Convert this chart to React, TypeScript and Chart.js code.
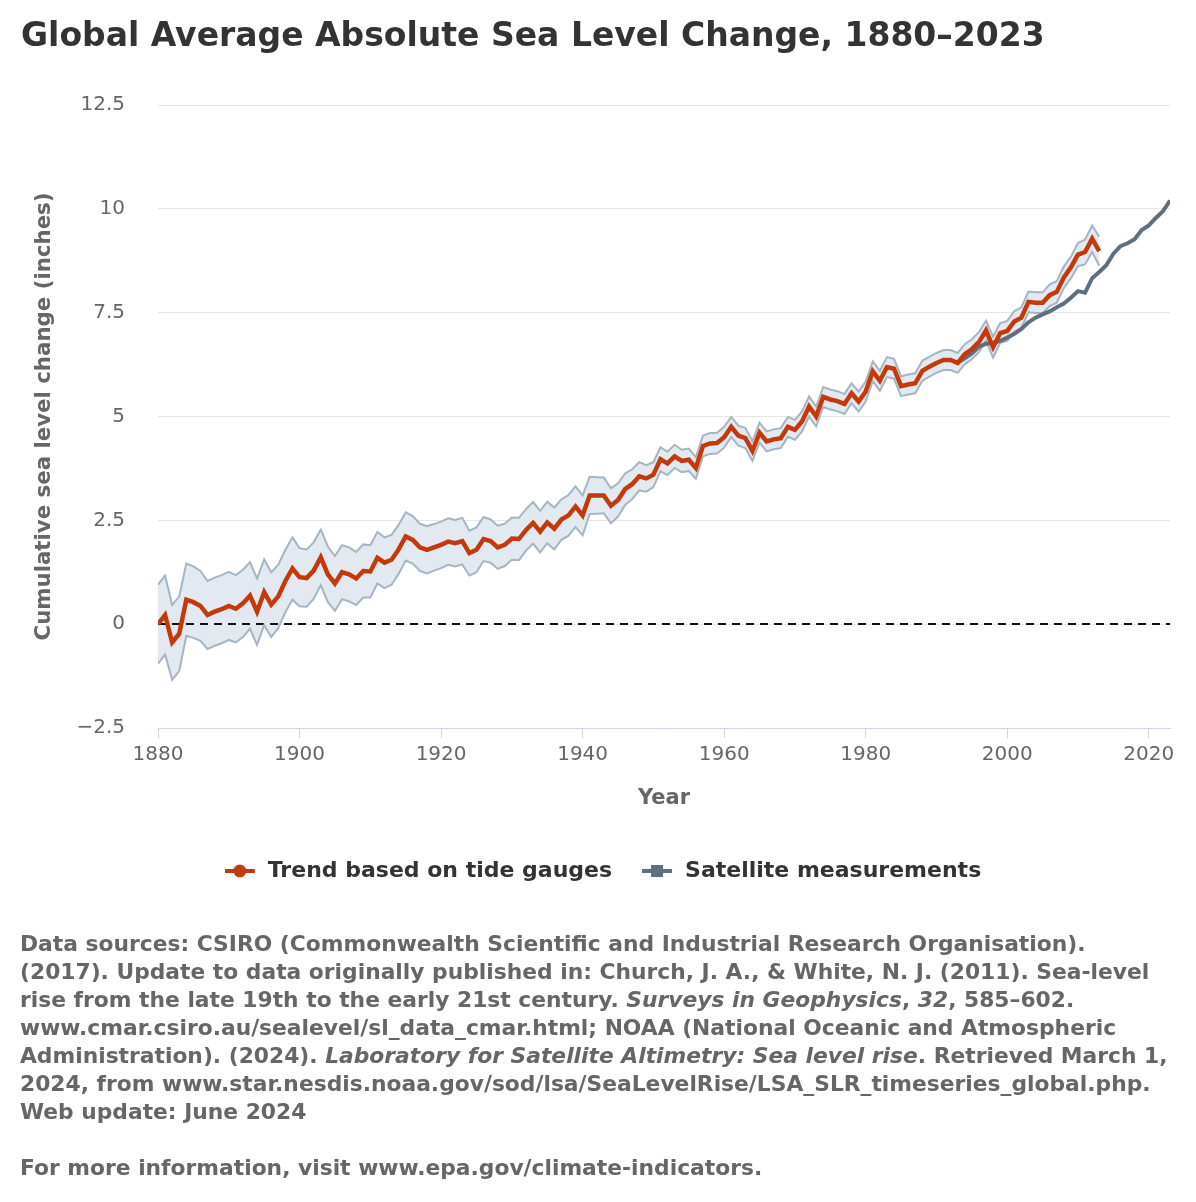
import { useEffect, useRef } from "react";
import { Chart, registerables } from "chart.js";

Chart.register(...registerables);

// Tide-gauge reconstruction (CSIRO), annual values in inches, starting 1880
const TIDE_START_YEAR = 1880;
const tideTrend = [
  0.0, 0.22, -0.44, -0.23, 0.59, 0.53, 0.44, 0.22, 0.3, 0.36,
  0.44, 0.37, 0.5, 0.69, 0.3, 0.77, 0.47, 0.67, 1.04, 1.34,
  1.13, 1.11, 1.29, 1.61, 1.2, 0.98, 1.25, 1.2, 1.1, 1.28,
  1.27, 1.6, 1.48, 1.55, 1.8, 2.11, 2.03, 1.85, 1.79, 1.85,
  1.91, 1.99, 1.95, 2.0, 1.71, 1.79, 2.05, 2.0, 1.85, 1.91,
  2.06, 2.05, 2.27, 2.44, 2.23, 2.45, 2.3, 2.52, 2.62, 2.83,
  2.62, 3.1, 3.1, 3.1, 2.85, 2.99, 3.25, 3.37, 3.56, 3.51,
  3.6, 3.97, 3.87, 4.04, 3.93, 3.96, 3.76, 4.29, 4.35, 4.36,
  4.5, 4.75, 4.54, 4.48, 4.17, 4.61, 4.4, 4.45, 4.48, 4.75,
  4.68, 4.88, 5.24, 5.0, 5.47, 5.41, 5.37, 5.3, 5.56, 5.36,
  5.6, 6.09, 5.86, 6.19, 6.15, 5.73, 5.77, 5.8, 6.1, 6.2,
  6.29, 6.36, 6.36, 6.29, 6.5, 6.62, 6.79, 7.07, 6.67, 7.01,
  7.06, 7.29, 7.38, 7.76, 7.74, 7.74, 7.92, 8.0, 8.35, 8.59,
  8.9, 8.96, 9.28, 8.98,
];
// Half-width of the uncertainty band around the tide-gauge trend (inches)
const tideError = [
  0.95, 0.95, 0.9, 0.9, 0.87, 0.86, 0.84, 0.82, 0.82, 0.82,
  0.82, 0.81, 0.81, 0.8, 0.8, 0.79, 0.78, 0.76, 0.75, 0.75,
  0.7, 0.69, 0.68, 0.67, 0.67, 0.66, 0.65, 0.65, 0.64, 0.64,
  0.63, 0.62, 0.61, 0.6, 0.59, 0.58, 0.57, 0.57, 0.57, 0.56,
  0.56, 0.56, 0.56, 0.56, 0.54, 0.54, 0.53, 0.52, 0.52, 0.51,
  0.51, 0.51, 0.5, 0.5, 0.5, 0.5, 0.5, 0.49, 0.49, 0.49,
  0.48, 0.45, 0.44, 0.43, 0.42, 0.4, 0.38, 0.36, 0.34, 0.32,
  0.3, 0.29, 0.28, 0.28, 0.27, 0.27, 0.26, 0.25, 0.25, 0.25,
  0.25, 0.24, 0.24, 0.24, 0.24, 0.24, 0.24, 0.24, 0.24, 0.24,
  0.24, 0.24, 0.24, 0.24, 0.24, 0.24, 0.24, 0.24, 0.24, 0.24,
  0.24, 0.24, 0.24, 0.24, 0.24, 0.24, 0.24, 0.24, 0.24, 0.24,
  0.24, 0.24, 0.24, 0.24, 0.24, 0.24, 0.24, 0.24, 0.25, 0.24,
  0.24, 0.25, 0.25, 0.25, 0.25, 0.25, 0.26, 0.26, 0.26, 0.26,
  0.28, 0.3, 0.32, 0.35,
];

// Satellite altimetry (NOAA), annual values in inches, starting 1993
const SATELLITE_START_YEAR = 1993;
const satellite = [
  6.3, 6.4, 6.52, 6.68, 6.75, 6.77, 6.82, 6.9, 6.99, 7.11,
  7.27, 7.38, 7.46, 7.53, 7.63, 7.72, 7.86, 8.02, 7.98, 8.33,
  8.48, 8.64, 8.92, 9.1, 9.17, 9.27, 9.49, 9.6, 9.78, 9.94,
  10.2,
];

const xTickValues = [1880, 1900, 1920, 1940, 1960, 1980, 2000, 2020];
const yTickValues = [-2.5, 0, 2.5, 5, 7.5, 10, 12.5];
const X_MIN = 1880;
const X_MAX = 2023;

const SERIES_NAMES = ["Trend based on tide gauges", "Satellite measurements"];

const RED = "#c4380c";
const SLATE = "#5f6f80";
const BAND_EDGE = "#a4b5c4";
const BAND_FILL = "#e2e9f0";
const FONT = "'DejaVu Sans', Verdana, sans-serif";

// Legend key: a short stroke with the series marker in its middle
function legendSymbol(color: string, shape: "circle" | "square"): HTMLCanvasElement {
  const c = document.createElement("canvas");
  c.width = 32;
  c.height = 16;
  const ctx = c.getContext("2d")!;
  ctx.strokeStyle = color;
  ctx.fillStyle = color;
  ctx.lineWidth = 4;
  ctx.beginPath();
  ctx.moveTo(0, 8);
  ctx.lineTo(30, 8);
  ctx.stroke();
  if (shape === "circle") {
    ctx.beginPath();
    ctx.arc(15, 8, 6.5, 0, Math.PI * 2);
    ctx.fill();
  } else {
    ctx.fillRect(9, 2, 12, 12);
  }
  return c;
}

// Dashed reference line at zero, drawn above the band fill and below the lines
const zeroLine = {
  id: "zeroLine",
  beforeDatasetsDraw(chart: any) {
    const { ctx, chartArea, scales } = chart;
    const y = Math.round(scales.y.getPixelForValue(0));
    ctx.save();
    ctx.strokeStyle = "#111";
    ctx.lineWidth = 2;
    ctx.setLineDash([8, 6]);
    ctx.beginPath();
    ctx.moveTo(chartArea.left, y);
    ctx.lineTo(chartArea.right, y);
    ctx.stroke();
    ctx.restore();
  },
};

function SeaLevelChart() {
  const ref = useRef<HTMLCanvasElement | null>(null);

  useEffect(() => {
    if (!ref.current) return;
    const trendPts = tideTrend.map((v, i) => ({ x: TIDE_START_YEAR + i, y: v }));
    const upperPts = tideTrend.map((v, i) => ({ x: TIDE_START_YEAR + i, y: +(v + tideError[i]).toFixed(3) }));
    const lowerPts = tideTrend.map((v, i) => ({ x: TIDE_START_YEAR + i, y: +(v - tideError[i]).toFixed(3) }));
    const satPts = satellite.map((v, i) => ({ x: SATELLITE_START_YEAR + i, y: v }));

    const symbols = [legendSymbol(RED, "circle"), legendSymbol(SLATE, "square")];

    const chart = new Chart(ref.current, {
      type: "line",
      data: {
        datasets: [
          {
            label: SERIES_NAMES[0],
            data: trendPts,
            borderColor: RED,
            borderWidth: 4.5,
            pointRadius: 0,
            fill: false,
          },
          {
            label: SERIES_NAMES[1],
            data: satPts,
            borderColor: SLATE,
            borderWidth: 4,
            pointRadius: 0,
            fill: false,
          },
          {
            label: "upper",
            data: upperPts,
            borderColor: BAND_EDGE,
            borderWidth: 2,
            pointRadius: 0,
            backgroundColor: BAND_FILL,
            fill: "+1",
          },
          {
            label: "lower",
            data: lowerPts,
            borderColor: BAND_EDGE,
            borderWidth: 2,
            pointRadius: 0,
            fill: false,
          },
        ],
      },
      options: {
        animation: false,
        responsive: false,
        events: [],
        layout: { padding: { top: 105, right: 26, bottom: 310, left: 36 } },
        scales: {
          x: {
            type: "linear",
            min: X_MIN,
            max: X_MAX,
            afterBuildTicks: (axis: any) => {
              axis.ticks = xTickValues.map((v) => ({ value: v }));
            },
            afterFit: (axis: any) => {
              axis.height = 102;
            },
            ticks: {
              callback: (v: any) => String(v),
              color: "#666",
              font: { family: FONT, size: 20, weight: "normal" },
              padding: 5,
              maxRotation: 0,
              autoSkip: false,
            },
            grid: {
              drawOnChartArea: false,
              drawTicks: true,
              tickLength: 10,
              color: "#ccd6eb",
              lineWidth: 1,
            },
            border: { display: true, color: "#ccd6eb", width: 1 },
            title: {
              display: true,
              text: "Year",
              color: "#666",
              font: { family: FONT, size: 21, weight: "bold" },
              padding: { top: 4, bottom: 19 },
            },
          },
          y: {
            min: -2.5,
            max: 12.5,
            afterBuildTicks: (axis: any) => {
              axis.ticks = yTickValues.map((v) => ({ value: v }));
            },
            afterFit: (axis: any) => {
              axis.width = 122;
            },
            ticks: {
              callback: (v: any) => String(v).replace("-", "\u2212"),
              color: "#666",
              font: { family: FONT, size: 20, weight: "normal" },
              padding: 33,
            },
            grid: { color: "#e6e6e6", lineWidth: 1, drawTicks: false },
            border: { display: false },
            title: {
              display: true,
              text: "Cumulative sea level change (inches)",
              color: "#666",
              font: { family: FONT, size: 21.3, weight: "bold" },
              padding: { top: -4, bottom: 0 },
            },
          },
        },
        plugins: {
          filler: { drawTime: "beforeDatasetsDraw" },
          tooltip: { enabled: false },
          legend: {
            position: "bottom",
            labels: {
              usePointStyle: true,
              pointStyleWidth: 32,
              boxHeight: 16,
              padding: 30,
              color: "#333",
              font: { family: FONT, size: 22, weight: "bold" },
              generateLabels: () =>
                SERIES_NAMES.map((name, i) => ({
                  text: name,
                  pointStyle: symbols[i],
                  fillStyle: "transparent",
                  strokeStyle: "transparent",
                  lineWidth: 0,
                  hidden: false,
                  datasetIndex: i,
                  fontColor: "#333",
                })),
            },
          },
        },
      } as any,
      plugins: [zeroLine],
    });
    return () => chart.destroy();
  }, []);

  return (
    <canvas
      ref={ref}
      width={1196}
      height={1202}
      style={{ position: "absolute", left: 0, top: 0, width: 1196, height: 1202 }}
    />
  );
}

const footerStyle: React.CSSProperties = {
  whiteSpace: "nowrap",
  height: 28,
};

export default function App() {
  useEffect(() => {
    document.body.style.margin = "0";
  }, []);

  return (
    <div
      style={{
        position: "relative",
        width: 1196,
        height: 1202,
        background: "#fff",
        overflow: "hidden",
        fontFamily: FONT,
      }}
    >
      <SeaLevelChart />
      <div
        style={{
          position: "absolute",
          left: 21,
          top: 15,
          fontSize: 33,
          lineHeight: "40px",
          fontWeight: 700,
          color: "#333",
          whiteSpace: "nowrap",
        }}
      >
        Global Average Absolute Sea Level Change, 1880–2023
      </div>
      <div
        style={{
          position: "absolute",
          left: 20,
          top: 930,
          fontSize: 21.8,
          lineHeight: "28px",
          fontWeight: 700,
          color: "#666",
        }}
      >
        <div style={footerStyle}>
          Data sources: CSIRO (Commonwealth Scientific and Industrial Research Organisation).
        </div>
        <div style={footerStyle}>
          (2017). Update to data originally published in: Church, J. A., &amp; White, N. J. (2011). Sea-level
        </div>
        <div style={footerStyle}>
          rise from the late 19th to the early 21st century. <i>Surveys in Geophysics</i>, <i>32</i>, 585–602.
        </div>
        <div style={footerStyle}>
          www.cmar.csiro.au/sealevel/sl_data_cmar.html; NOAA (National Oceanic and Atmospheric
        </div>
        <div style={footerStyle}>
          Administration). (2024). <i>Laboratory for Satellite Altimetry: Sea level rise</i>. Retrieved March 1,
        </div>
        <div style={footerStyle}>
          2024, from www.star.nesdis.noaa.gov/sod/lsa/SeaLevelRise/LSA_SLR_timeseries_global.php.
        </div>
        <div style={footerStyle}>Web update: June 2024</div>
        <div style={footerStyle}>&nbsp;</div>
        <div style={footerStyle}>For more information, visit www.epa.gov/climate-indicators.</div>
      </div>
    </div>
  );
}
